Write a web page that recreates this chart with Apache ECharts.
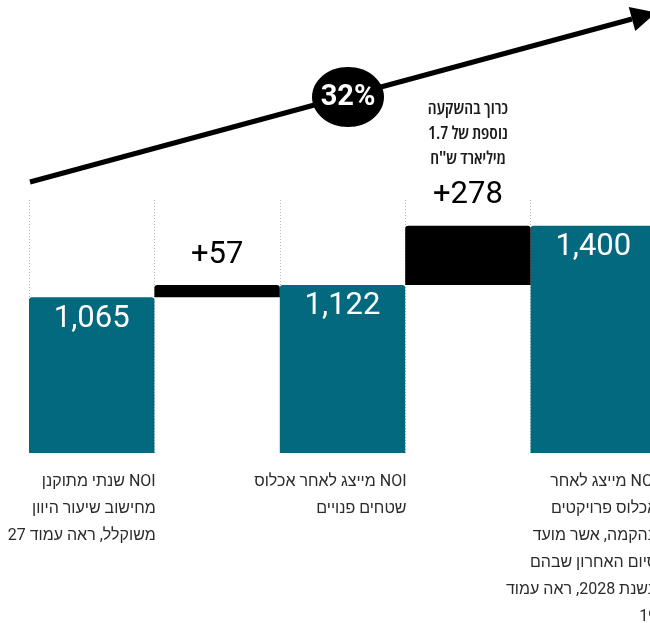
<!DOCTYPE html>
<html>
<head>
<meta charset="utf-8">
<script src="https://cdn.jsdelivr.net/npm/echarts@6/dist/echarts.min.js"></script>
<style>
html,body{margin:0;padding:0;background:#fff;}
#chart{width:650px;height:623px;}
</style>
</head>
<body>
<div id="chart"></div>
<script>
// ---- data ----
const categories = ['NOI שנתי מתוקנן', 'תוספת אכלוס', 'NOI מייצג', 'תוספת פרויקטים', 'NOI מייצג 2028'];
const totals = [1065, null, 1122, null, 1400];
const increments = [null, 57, null, 278, null];
const bottomLabels = [
  'NOI שנתי מתוקנן\nמחישוב שיעור היוון\nמשוקלל, ראה עמוד 27',
  '',
  'NOI מייצג לאחר אכלוס\nשטחים פנויים',
  '',
  'NOI מייצג לאחר\nאכלוס פרויקטים\nבהקמה, אשר מועד\nסיום האחרון שבהם\nבשנת 2028, ראה עמוד\n19'
];
const notes = ['', '', '', 'כרוך בהשקעה\nנוספת של 1.7\nמיליארד ש"ח', ''];
const growthLabel = '32%';

// invisible base for floating bars = previous total
const base = increments.map((v, i) => (v == null ? null : totals[i - 1]));

const RLE = '\u202B', PDF = '\u202C';
const TEAL = '#02697F';

const chart = echarts.init(document.getElementById('chart'), null, {renderer: 'canvas'});

// arrow geometry (decoration)
const ax0 = 30, ay0 = 182, ax1 = 632, ay1 = 19;
const ang = Math.atan2(ay0 - ay1, ax1 - ax0);
const cs = Math.cos(ang), sn = Math.sin(ang);
const headLen = 25, headHalf = 12.5;
const tip = [ax1 + headLen * cs, ay1 - headLen * sn];
const c1 = [ax1 - headHalf * sn, ay1 - headHalf * cs];
const c2 = [ax1 + headHalf * sn, ay1 + headHalf * cs];

const option = {
  backgroundColor: '#fff',
  animation: false,
  grid: {left: 29, width: 627, top: 200, bottom: 170, containLabel: false, outerBoundsMode: 'none'},
  xAxis: {
    type: 'category',
    data: categories,
    boundaryGap: true,
    axisLine: {show: false},
    axisTick: {show: false},
    splitLine: {show: true, lineStyle: {type: [1, 2], color: '#b5b5b5', width: 1}},
    axisLabel: {
      interval: 0,
      margin: 15,
      align: 'center',
      hideOverlap: false,
      formatter: (v, i) => bottomLabels[i]
        ? bottomLabels[i].split('\n').map(l => '{t|' + RLE + l + PDF + '}').join('\n')
        : '',
      rich: {
        t: {width: 128, align: 'right', fontSize: 16, lineHeight: 27, color: '#2b2b2b',
            fontFamily: 'Roboto, "Liberation Sans", "DejaVu Sans", sans-serif'}
      }
    }
  },
  yAxis: {type: 'value', min: 337, max: 1520, show: false, splitLine: {show: false}},
  series: [
    {
      name: 'base', type: 'bar', stack: 'w', barCategoryGap: '0%',
      itemStyle: {color: 'transparent'}, silent: true,
      data: base
    },
    {
      name: 'total', type: 'bar', stack: 'w', barCategoryGap: '0%',
      itemStyle: {color: TEAL, borderRadius: [3, 3, 0, 0]},
      label: {
        show: true, position: 'insideTop', distance: 6, color: '#fff',
        fontSize: 31, fontWeight: 'normal', fontFamily: 'Roboto, sans-serif',
        formatter: p => p.value.toLocaleString('en-US')
      },
      data: totals
    },
    {
      name: 'increment', type: 'bar', stack: 'w', barCategoryGap: '0%',
      itemStyle: {color: '#000', borderRadius: [3, 3, 0, 0]},
      label: {
        show: true, position: 'top', distance: 6,
        formatter: p => {
          const n = notes[p.dataIndex];
          const head = n ? n.split('\n').map(l => '{n|' + RLE + l + PDF + '}').join('\n') + '\n' : '';
          return head + '{v|+' + p.value + '}';
        },
        rich: {
          n: {fontSize: 18, lineHeight: 25, color: '#1a1a1a', align: 'center',
              fontStyle: 'condensed', fontWeight: 600,
              fontFamily: '"Open Sans", "DejaVu Sans", sans-serif'},
          v: {fontSize: 31, lineHeight: 48, color: '#000', align: 'center',
              fontFamily: 'Roboto, sans-serif'}
        }
      },
      data: increments
    }
  ],
  graphic: [
    {type: 'polyline', z: 10, shape: {points: [[ax0, ay0], [ax1, ay1]]},
     style: {stroke: '#000', lineWidth: 5, fill: null}},
    {type: 'polygon', z: 10, shape: {points: [tip, c1, c2]}, style: {fill: '#000'}},
    {type: 'ellipse', z: 11, shape: {cx: 348, cy: 97, rx: 36, ry: 30}, style: {fill: '#000'}},
    {type: 'text', z: 12, x: 348, y: 98,
     style: {text: growthLabel, fill: '#fff', font: 'bold 29px Roboto, sans-serif',
             textAlign: 'center', textVerticalAlign: 'middle'}}
  ]
};
chart.setOption(option);
</script>
</body>
</html>
